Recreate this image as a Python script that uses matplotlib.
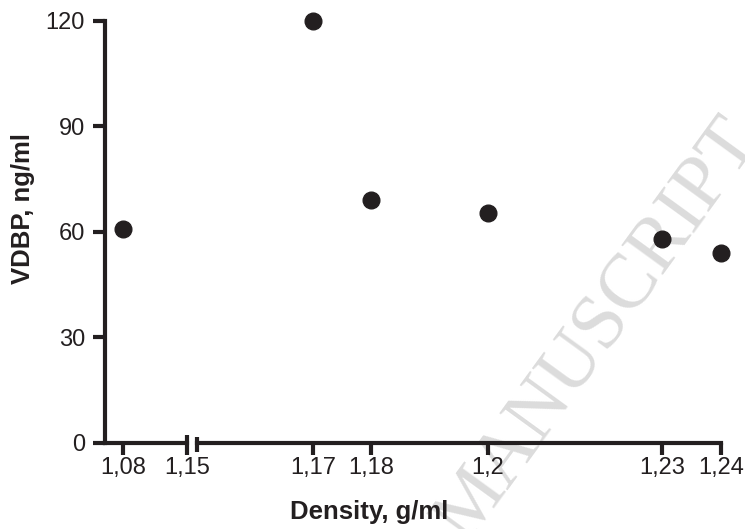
import matplotlib.pyplot as plt

plt.rcParams['font.family'] = ['Liberation Sans', 'DejaVu Sans']

# VDBP concentration in each density fraction
density = [1.08, 1.17, 1.18, 1.20, 1.23, 1.24]
vdbp = [60.7, 120.0, 69.0, 65.4, 57.8, 54.0]

left_ticks = [1.08, 1.15]
left_labels = ['1,08', '1,15']
right_ticks = [1.17, 1.18, 1.20, 1.23, 1.24]
right_labels = ['1,17', '1,18', '1,2', '1,23', '1,24']
y_ticks = [0, 30, 60, 90, 120]

left_range = (1.06, 1.15)
right_range = (1.15, 1.24)

ink = '#231f20'
lw = 3.0

fig = plt.figure(figsize=(7.45, 5.29), dpi=100)
W, H = 745, 529
ax1 = fig.add_axes([105 / W, 86.3 / H, 81.7 / W, 422 / H])
ax2 = fig.add_axes([196.7 / W, 86.3 / H, 524 / W, 422 / H], sharey=ax1)

for ax, rng, ticks, labels in [(ax1, left_range, left_ticks, left_labels),
                               (ax2, right_range, right_ticks, right_labels)]:
    xs = [x for x in density if rng[0] <= x <= rng[1]]
    ys = [y for x, y in zip(density, vdbp) if rng[0] <= x <= rng[1]]
    ax.plot(xs, ys, 'o', ms=12, color=ink, clip_on=False, zorder=3)
    ax.set_xlim(*rng)
    ax.set_xticks(ticks)
    ax.set_xticklabels(labels)
    ax.patch.set_alpha(0)
    for side in ['top', 'right']:
        ax.spines[side].set_visible(False)
    for sp in ax.spines.values():
        sp.set_linewidth(lw)
        sp.set_color(ink)
    ax.tick_params(axis='x', length=8.5, width=lw, color=ink, labelsize=17,
                   pad=2, labelcolor=ink)

ax1.set_ylim(0, 120)
ax1.set_yticks(y_ticks)
ax1.tick_params(axis='y', length=8.5, width=lw, color=ink, labelsize=17,
                pad=6, labelcolor=ink)
ax2.spines['left'].set_visible(False)
ax2.tick_params(axis='y', left=False, labelleft=False)

# short bars marking the break in the x axis
ax1.plot([left_range[1]] * 2, [0.0, 0.019], color=ink, lw=lw,
         transform=ax1.get_xaxis_transform(), clip_on=False, solid_capstyle='butt')
ax2.plot([right_range[0]] * 2, [-0.0225, 0.014], color=ink, lw=lw,
         transform=ax2.get_xaxis_transform(), clip_on=False, solid_capstyle='butt')

fig.text(369 / W, 1 - 511.7 / H, 'Density, g/ml', ha='center', va='center',
         fontsize=18.5, fontweight='bold', color=ink)
fig.text(23 / W, 1 - 208 / H, 'VDBP, ng/ml', ha='center', va='center',
         rotation=90, fontsize=18.5, fontweight='bold', color=ink)

ax2.text(598 / W, 1 - 330 / H, 'MANUSCRIPT', transform=fig.transFigure,
         rotation=54, fontsize=56, family='Liberation Serif', color='#dcdcdc',
         ha='center', va='center', zorder=1, clip_on=False)

fig.savefig('out.png', dpi=100)
